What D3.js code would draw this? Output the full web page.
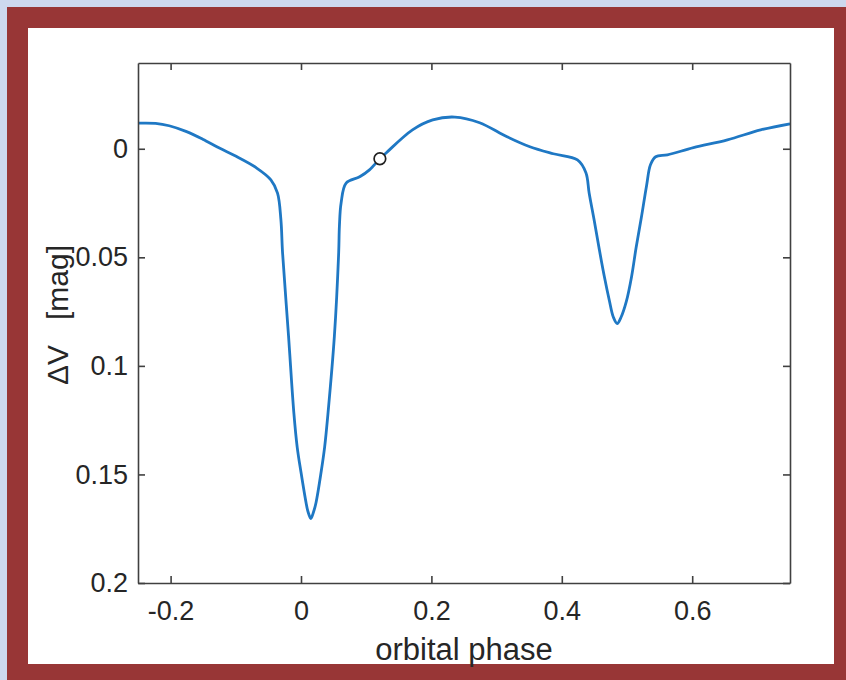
<!DOCTYPE html>
<html>
<head>
<meta charset="utf-8">
<script src="https://cdn.jsdelivr.net/npm/d3@7"></script>
<style>
  html, body { margin: 0; padding: 0; background: #cdd8ee; }
  svg { display: block; }
  text { font-family: "Liberation Sans", Arial, sans-serif; fill: #262626; }
</style>
</head>
<body>
<svg id="chart" width="846" height="680"></svg>
<script>
// light curve: orbital phase vs delta V
var phase = [-0.25, -0.223, -0.2022, -0.1765, -0.1508, -0.1252, -0.0995, -0.0688, -0.0462, -0.036, -0.0308,
  -0.0283, -0.0191, -0.0110, -0.0058, 0.0, 0.0077, 0.0109, 0.0151, 0.0192, 0.0231, 0.0308, 0.0362, 0.0415, 0.0512, 0.0578,
  0.0589, 0.0615, 0.0692, 0.090, 0.105, 0.121, 0.131, 0.171, 0.202, 0.236, 0.274, 0.316, 0.351, 0.387, 0.424,
  0.437, 0.442, 0.450, 0.457, 0.465, 0.473, 0.479, 0.485, 0.491, 0.499, 0.507, 0.514, 0.522, 0.530, 0.536,
  0.544, 0.562, 0.602, 0.654, 0.705, 0.75];
var deltaV = [-0.0118, -0.0117, -0.0106, -0.0080, -0.0044, -0.0003, 0.0035, 0.0087, 0.0143, 0.0204, 0.0328,
  0.0478, 0.0863, 0.1215, 0.1375, 0.1490, 0.1629, 0.1673, 0.1703, 0.1673, 0.1629, 0.1490, 0.1375, 0.1215, 0.0863, 0.0478,
  0.0357, 0.0250, 0.0158, 0.0129, 0.0097, 0.0046, 0.0018, -0.0087, -0.0133, -0.0146, -0.0120, -0.0055, -0.0009, 0.0023, 0.0051,
  0.0110, 0.0205, 0.0335, 0.0455, 0.0585, 0.0700, 0.0775, 0.0805, 0.0775, 0.0703, 0.0589, 0.0455, 0.0317, 0.0170, 0.0074,
  0.0037, 0.0028, -0.0005, -0.0041, -0.0087, -0.0115];
var marker = [0.121, 0.0046];
var xTicks = [-0.2, 0, 0.2, 0.4, 0.6];
var yTicks = [0, 0.05, 0.1, 0.15, 0.2];

var svg = d3.select("#chart");
var W = 846, H = 680;

// frame
svg.append("rect").attr("x", 7).attr("y", 7).attr("width", W - 7).attr("height", H - 7).attr("fill", "#983636");
svg.append("rect").attr("x", 28).attr("y", 28).attr("width", 806).attr("height", 636).attr("fill", "#ffffff");

var pLeft = 138, pRight = 790, pTop = 63, pBottom = 583;

var x = d3.scaleLinear().domain([-0.25, 0.75]).range([pLeft, pRight]);
var y = d3.scaleLinear().domain([-0.0395, 0.2]).range([pTop, pBottom]);

var g = svg.append("g");

// the curve
var pts = phase.map(function (p, i) { return [p, deltaV[i]]; });
var line = d3.line()
  .x(function (d) { return x(d[0]); })
  .y(function (d) { return y(d[1]); })
  .curve(d3.curveCatmullRom.alpha(0.5));

g.append("path")
  .datum(pts)
  .attr("d", line)
  .attr("fill", "none")
  .attr("stroke", "#1f78c4")
  .attr("stroke-width", 2.8)
  .attr("stroke-linejoin", "round");

g.append("circle")
  .attr("cx", x(marker[0]))
  .attr("cy", y(marker[1]))
  .attr("r", 5.8)
  .attr("fill", "#ffffff")
  .attr("stroke", "#202020")
  .attr("stroke-width", 1.7);

// axes, ticks inside on all four sides
var tickLen = -7;
function styleAxis(sel) {
  sel.selectAll(".domain").attr("stroke", "#404040").attr("stroke-width", 1.6);
  sel.selectAll(".tick line").attr("stroke", "#404040").attr("stroke-width", 1.6);
  sel.selectAll(".tick text").style("font-size", "27px").attr("fill", "#262626");
}

// plain hyphen for negatives, like the original
var fmt = function (d) { return String(+d.toFixed(2)); };

svg.append("g")
  .attr("transform", "translate(0," + pBottom + ")")
  .call(d3.axisBottom(x).tickValues(xTicks).tickSize(tickLen).tickSizeOuter(0).tickPadding(18).tickFormat(fmt))
  .call(styleAxis);

svg.append("g")
  .attr("transform", "translate(0," + pTop + ")")
  .call(d3.axisTop(x).tickValues(xTicks).tickSize(tickLen).tickSizeOuter(0).tickFormat(""))
  .call(styleAxis);

svg.append("g")
  .attr("transform", "translate(" + pLeft + ",0)")
  .call(d3.axisLeft(y).tickValues(yTicks).tickSize(tickLen).tickSizeOuter(0).tickPadding(10).tickFormat(fmt))
  .call(styleAxis);

svg.append("g")
  .attr("transform", "translate(" + pRight + ",0)")
  .call(d3.axisRight(y).tickValues(yTicks).tickSize(tickLen).tickSizeOuter(0).tickFormat(""))
  .call(styleAxis);

// axis labels
svg.append("text")
  .attr("x", 464)
  .attr("y", 660)
  .attr("text-anchor", "middle")
  .style("font-size", "31px")
  .text("orbital phase");

svg.append("text")
  .attr("transform", "translate(68," + 315 + ") rotate(-90)")
  .attr("text-anchor", "middle")
  .style("font-size", "30px")
  .style("white-space", "pre")
  .text("ΔV   [mag]");
</script>
</body>
</html>
